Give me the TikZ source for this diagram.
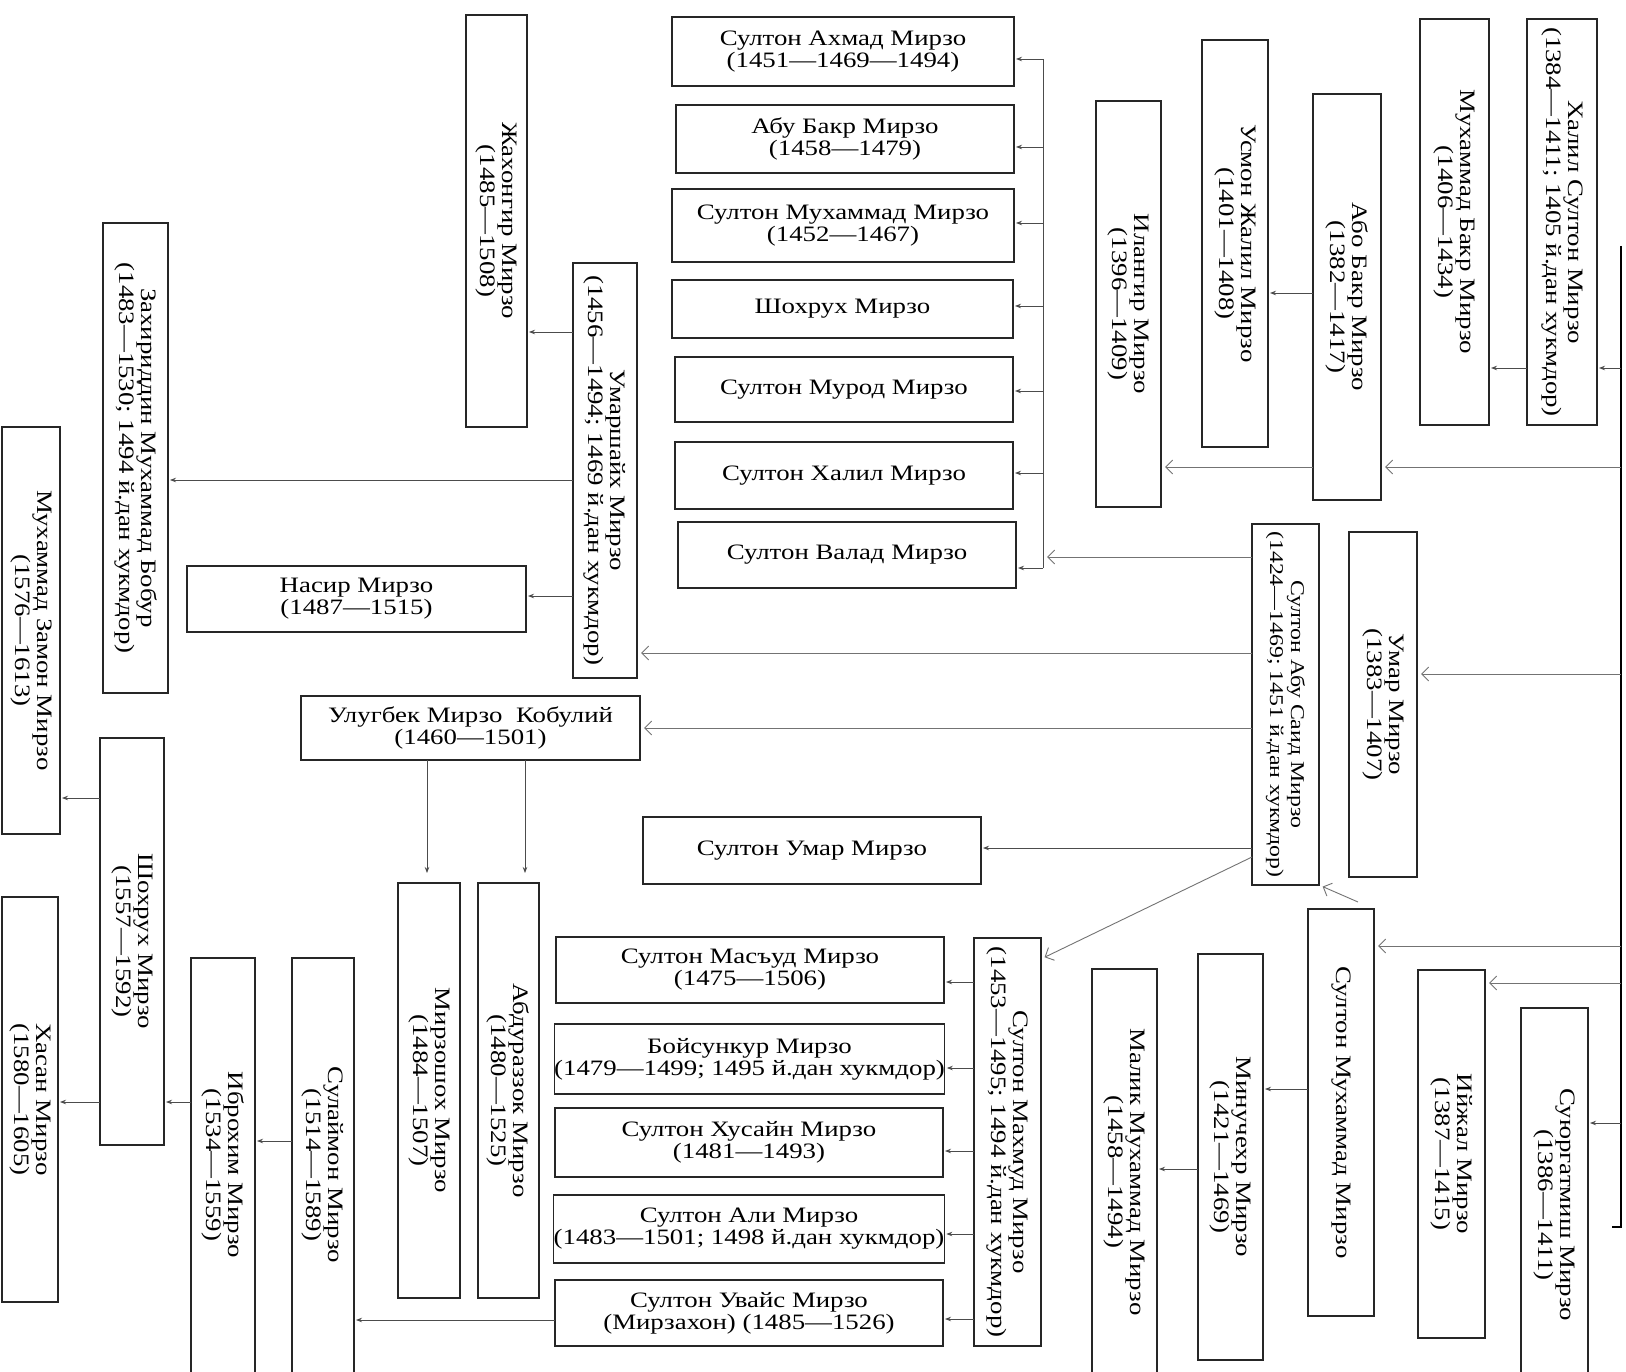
\documentclass[tikz,border=0pt]{standalone}
\usepackage{fontspec}
\setmainfont{Liberation Serif}[FakeStretch=1.22]
\usetikzlibrary{arrows.meta}
\tikzset{
  box/.style={draw=black!85, line width=1.1pt, inner sep=0pt, outer sep=0pt, align=center,
    font=\fontsize{22}{22}\selectfont},
  txt/.style={inner sep=0pt, align=center, font=\fontsize{22}{22}\selectfont},
  smalltxt/.style={inner sep=0pt, align=center, font=\fontsize{19.5}{21}\selectfont},
  arr/.style={-{Stealth[length=6pt,width=4.5pt]}, line width=0.8pt, draw=black!70, shorten >=2pt},
  barr/.style={-{Straight Barb[length=7pt,width=14pt]}, line width=0.9pt, draw=black!55, shorten >=4pt},
  plain/.style={line width=0.8pt, draw=black!70},
  trunkline/.style={line width=2.6pt, draw=black}
}
% horizontal box: name x1 y1 x2 y2 text
\newcommand\MyH[6]{\node[box, minimum width={(#4-#2)*1pt}, minimum height={(#5-#3)*1pt}] (#1) at ({(#2+#4)/2},{(#3+#5)/2}) {#6};}
% vertical box with text rotated
\newcommand\MyV[6]{\node[box, minimum width={(#4-#2)*1pt}, minimum height={(#5-#3)*1pt}] (#1) at ({(#2+#4)/2},{(#3+#5)/2}) {};
  \node[txt, rotate=-90] (#1-t) at (#1.center) {#6};}
% vertical box cut by page bottom: name x1 y1 x2 y2 textcentre-y text
\newcommand\MyVc[7]{\node[box, minimum width={(#4-#2)*1pt}, minimum height={(#5-#3)*1pt}] (#1) at ({(#2+#4)/2},{(#3+#5)/2}) {};
  \node[txt, rotate=-90] (#1-t) at ({(#2+#4)/2},#6) {#7};}
\begin{document}
\begin{tikzpicture}[x=1pt,y=-1pt]
\clip (0,0) rectangle (1626,1372);
\fill[white] (0,0) rectangle (1626,1372);

% ---- right part
\MyV{khalil}{1527}{19}{1597}{425}{Халил Султон Мирзо\\(1384—1411; 1405 й.дан хукмдор)}
\MyV{mbakr}{1420}{19}{1489}{425}{Мухаммад Бакр Мирзо\\(1406—1434)}
\MyV{abubakr}{1313}{94}{1381}{500}{Або Бакр Мирзо\\(1382—1417)}
\MyV{usmon}{1202}{40}{1268}{447}{Усмон Жалил Мирзо\\(1401—1408)}
\MyV{ilangir}{1096}{101}{1161}{507}{Илангир Мирзо\\(1396—1409)}
\MyV{umar}{1349}{532}{1417}{877}{Умар Мирзо\\(1383—1407)}
\node[box, minimum width=67pt, minimum height=361pt] (abusaid) at (1285.5,704.5) {};
\node[smalltxt, rotate=-90] (abusaid-t) at (abusaid.center) {Султон Абу Саид Мирзо\\(1424—1469; 1451 й.дан хукмдор)};
\MyV{smuhv}{1308}{909}{1374}{1316}{Султон Мухаммад Мирзо}
\MyV{iyjal}{1418}{970}{1485}{1338}{Ийжал Мирзо\\(1387—1415)}
\MyVc{suyur}{1521}{1008}{1588}{1385}{1205}{Суюргатмиш Мирзо\\(1386—1411)}
\MyV{minuchehr}{1198}{954}{1263}{1360}{Минучехр Мирзо\\(1421—1469)}
\MyVc{malik}{1092}{969}{1157}{1385}{1172}{Малик Мухаммад Мирзо\\(1458—1494)}

% ---- middle column
\MyH{ahmad}{672}{17}{1014}{86}{Султон Ахмад Мирзо\\(1451—1469—1494)}
\MyH{abubakrb}{676}{105}{1014}{173}{Абу Бакр Мирзо\\(1458—1479)}
\MyH{smuh}{672}{189}{1014}{262}{Султон Мухаммад Мирзо\\(1452—1467)}
\MyH{shohrukh}{672}{280}{1013}{338}{Шохрух Мирзо}
\MyH{murod}{675}{357}{1013}{422}{Султон Мурод Мирзо}
\MyH{skhalil}{675}{442}{1013}{509}{Султон Халил Мирзо}
\MyH{valad}{678}{522}{1016}{588}{Султон Валад Мирзо}

% ---- left part
\MyV{jahongir}{466}{15}{527}{427}{Жахонгир Мирзо\\(1485—1508)}
\MyV{umarshaikh}{573}{263}{637}{678}{Умаршайх Мирзо\\(1456—1494; 1469 й.дан хукмдор)}
\MyV{bobur}{103}{223}{168}{693}{Захириддин Мухаммад Бобур\\(1483—1530; 1494 й.дан хукмдор)}
\MyH{nasir}{187}{566}{526}{632}{Насир Мирзо\\(1487—1515)}
\MyV{zamon}{2}{427}{60}{834}{Мухаммад Замон Мирзо\\(1576—1613)}
\MyH{ulugbek}{301}{696}{640}{760}{Улугбек Мирзо\ \ Кобулий\\(1460—1501)}
\MyV{shohrukhb}{100}{738}{164}{1145}{Шохрух Мирзо\\(1557—1592)}
\MyV{hasan}{2}{897}{58}{1302}{Хасан Мирзо\\(1580—1605)}
\MyVc{ibrohim}{191}{958}{255}{1385}{1165}{Иброхим Мирзо\\(1534—1559)}
\MyVc{sulaymon}{292}{958}{354}{1385}{1165}{Сулаймон Мирзо\\(1514—1589)}
\MyV{mirzoshoh}{398}{883}{460}{1298}{Мирзошох Мирзо\\(1484—1507)}
\MyV{abdurazzok}{478}{883}{539}{1298}{Абдураззок Мирзо\\(1480—1525)}
\MyH{sumar}{643}{817}{981}{884}{Султон Умар Мирзо}

% ---- bottom middle
\MyH{masud}{556}{937}{944}{1003}{Султон Масъуд Мирзо\\(1475—1506)}
\MyH{boysunqur}{555}{1024}{944}{1094}{Бойсункур Мирзо\\(1479—1499; 1495 й.дан хукмдор)}
\MyH{husayn}{555}{1108}{943}{1177}{Султон Хусайн Мирзо\\(1481—1493)}
\MyH{ali}{555}{1195}{943}{1263}{Султон Али Мирзо\\(1483—1501; 1498 й.дан хукмдор)}
\MyH{uvays}{555}{1280}{943}{1346}{Султон Увайс Мирзо\\(Мирзахон) (1485—1526)}
\MyV{mahmud}{974}{938}{1041}{1346}{Султон Махмуд Мирзо\\(1453—1495; 1494 й.дан хукмдор)}

% ---- trunk
\coordinate (tTop) at (1621,246);
\coordinate (tBot) at (1621,1227);
\draw[trunkline] (tTop) -- (tBot) -- ++(-9,0);
\draw[arr] (tTop |- 0,368) -- (khalil.east |- 0,368);
\draw[arr] (khalil.west |- 0,368) -- (mbakr.east |- 0,368);
\draw[barr] (tTop |- 0,467) -- (abubakr.east |- 0,467);
\draw[arr] (abubakr.west |- 0,293) -- (usmon.east |- 0,293);
\draw[barr] (abubakr.west |- 0,467) -- (ilangir.east |- 0,467);
\draw[barr] (tTop |- 0,674) -- (umar.east |- 0,674);
\draw[barr] (tTop |- 0,946) -- (smuhv.east |- 0,946);
\draw[barr] (tTop |- 0,983) -- (iyjal.east |- 0,983);
\draw[arr] (tTop |- 0,1123) -- (suyur.east |- 0,1123);
\draw[arr] (smuhv.west |- 0,1089) -- (minuchehr.east |- 0,1089);
\draw[arr] (minuchehr.west |- 0,1169) -- (malik.east |- 0,1169);
\coordinate (smuhvStart) at (1358,902);
\draw[barr] (smuhvStart) -- (abusaid.south east);

% ---- bus of Abu Said's sons
\coordinate (busTop) at (1043,59);
\coordinate (busBot) at (1043,568);
\draw[plain] (busTop) -- (busBot);
\draw[barr] (abusaid.west |- 0,557) -- (busBot |- 0,557);
\draw[arr] (busTop |- 0,59) -- (ahmad.east |- 0,59);
\draw[arr] (busTop |- 0,147) -- (abubakrb.east |- 0,147);
\draw[arr] (busTop |- 0,223) -- (smuh.east |- 0,223);
\draw[arr] (busTop |- 0,306) -- (shohrukh.east |- 0,306);
\draw[arr] (busTop |- 0,391) -- (murod.east |- 0,391);
\draw[arr] (busTop |- 0,473) -- (skhalil.east |- 0,473);
\draw[arr] (busTop |- 0,568) -- (valad.east |- 0,568);

\draw[barr] (abusaid.west |- 0,653) -- (umarshaikh.east |- 0,653);
\draw[barr] (abusaid.west |- 0,728) -- (ulugbek.east |- 0,728);
\draw[arr] (abusaid.west |- 0,848) -- (sumar.east |- 0,848);
\draw[barr] (abusaid.west |- 0,857) -- (mahmud.east |- 0,959);

% ---- Umarshaikh
\draw[arr] (umarshaikh.west |- 0,332) -- (jahongir.east |- 0,332);
\draw[arr] (umarshaikh.west |- 0,480) -- (bobur.east |- 0,480);
\draw[arr] (umarshaikh.west |- 0,596) -- (nasir.east |- 0,596);

% ---- Ulugbek
\draw[arr, shorten >=10pt] (ulugbek.south -| 427,0) -- (mirzoshoh.north -| 427,0);
\draw[arr, shorten >=10pt] (ulugbek.south -| 525,0) -- (abdurazzok.north -| 525,0);

% ---- Mahmud
\draw[arr] (mahmud.west |- 0,982) -- (masud.east |- 0,982);
\draw[arr] (mahmud.west |- 0,1068) -- (boysunqur.east |- 0,1068);
\draw[arr] (mahmud.west |- 0,1151) -- (husayn.east |- 0,1151);
\draw[arr] (mahmud.west |- 0,1234) -- (ali.east |- 0,1234);
\draw[arr] (mahmud.west |- 0,1319) -- (uvays.east |- 0,1319);

% ---- Uvays line
\draw[arr] (uvays.west |- 0,1320) -- (sulaymon.east |- 0,1320);
\draw[arr] (sulaymon.west |- 0,1141) -- (ibrohim.east |- 0,1141);
\draw[arr] (ibrohim.west |- 0,1102) -- (shohrukhb.east |- 0,1102);
\draw[arr] (shohrukhb.west |- 0,798) -- (zamon.east |- 0,798);
\draw[arr] (shohrukhb.west |- 0,1102) -- (hasan.east |- 0,1102);
\end{tikzpicture}
\end{document}
